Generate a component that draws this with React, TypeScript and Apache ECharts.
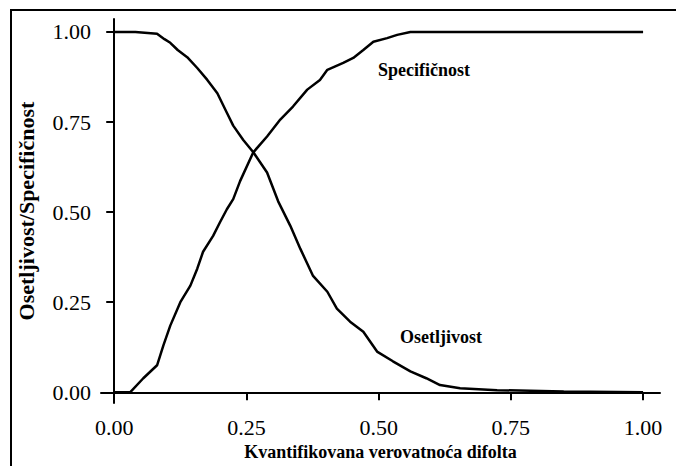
import React, { useEffect, useRef } from "react";
import * as echarts from "echarts";

const tickValues = [0, 0.25, 0.5, 0.75, 1];

const sensX = [0, 0.04, 0.081, 0.095, 0.106, 0.12, 0.138, 0.157, 0.176, 0.195, 0.213, 0.225, 0.244, 0.263, 0.289, 0.31, 0.333, 0.352, 0.376, 0.403, 0.421, 0.446, 0.471, 0.497, 0.527, 0.56, 0.59, 0.616, 0.654, 0.724, 0.85, 1.0];
const sensY = [1.0, 1.0, 0.995, 0.98, 0.97, 0.95, 0.93, 0.9, 0.867, 0.83, 0.776, 0.74, 0.7, 0.666, 0.61, 0.53, 0.462, 0.398, 0.323, 0.279, 0.232, 0.196, 0.168, 0.113, 0.086, 0.058, 0.039, 0.02, 0.011, 0.006, 0.002, 0.0];

const specX = [0, 0.03, 0.055, 0.081, 0.093, 0.106, 0.125, 0.144, 0.157, 0.168, 0.187, 0.2, 0.213, 0.225, 0.238, 0.263, 0.289, 0.314, 0.338, 0.365, 0.389, 0.403, 0.433, 0.452, 0.471, 0.49, 0.516, 0.535, 0.56, 1.0];
const specY = [0, 0, 0.039, 0.075, 0.13, 0.185, 0.25, 0.296, 0.343, 0.39, 0.434, 0.472, 0.508, 0.536, 0.586, 0.666, 0.71, 0.757, 0.793, 0.84, 0.867, 0.895, 0.914, 0.928, 0.95, 0.973, 0.983, 0.992, 1.0, 1.0];

const xTitle = "Kvantifikovana verovatnoća difolta";
const yTitle = "Osetljivost/Specifičnost";
const sensLabel = "Osetljivost";
const specLabel = "Specifičnost";

const FONT = "'Liberation Serif', 'DejaVu Serif', serif";

export default function App() {
  const ref = useRef<HTMLDivElement>(null);
  useEffect(() => {
    if (!ref.current) return;
    const chart = echarts.init(ref.current, null, { renderer: "svg" });
    const axisCommon = {
      type: "value" as const,
      axisLine: { show: true, lineStyle: { color: "#000", width: 2 } },
      axisTick: { show: true, length: 8, lineStyle: { color: "#000", width: 2 }, customValues: tickValues },
      axisLabel: {
        color: "#000",
        fontFamily: FONT,
        fontSize: 22,
        customValues: tickValues,
        formatter: (v: number) => v.toFixed(2),
      },
      splitLine: { show: false },
    };
    chart.setOption({
      animation: false,
      backgroundColor: "#fff",
      textStyle: { fontFamily: FONT },
      grid: { left: 101, right: 16, top: 19, bottom: 61 },
      xAxis: {
        ...axisCommon,
        min: -0.025,
        max: 1.032,
        axisLabel: { ...axisCommon.axisLabel, margin: 13 },
        name: xTitle,
        nameLocation: "middle",
        nameGap: 39,
        nameTextStyle: { color: "#000", fontFamily: FONT, fontWeight: "bold", fontSize: 18 },
      },
      yAxis: {
        ...axisCommon,
        min: -0.03,
        max: 1.036,
        axisLabel: { ...axisCommon.axisLabel, margin: 10 },
        name: yTitle,
        nameLocation: "middle",
        nameRotate: 90,
        nameGap: 64,
        nameTextStyle: { color: "#000", fontFamily: FONT, fontWeight: "bold", fontSize: 22 },
      },
      series: [
        {
          type: "line",
          name: sensLabel,
          data: sensX.map((x, i) => [x, sensY[i]]),
          showSymbol: false,
          lineStyle: { color: "#000", width: 2.5 },
        },
        {
          type: "line",
          name: specLabel,
          data: specX.map((x, i) => [x, specY[i]]),
          showSymbol: false,
          lineStyle: { color: "#000", width: 2.5 },
        },
      ],
      graphic: [
        { type: "line", shape: { x1: 11, y1: 10, x2: 11, y2: 466 }, style: { stroke: "#000", lineWidth: 2 } },
        { type: "line", shape: { x1: 10, y1: 10, x2: 676, y2: 10 }, style: { stroke: "#000", lineWidth: 2 } },
        {
          type: "text",
          x: 378,
          y: 70,
          style: { text: specLabel, fontFamily: FONT, fontWeight: "bold", fontSize: 18, fill: "#000", verticalAlign: "middle" },
        },
        {
          type: "text",
          x: 400,
          y: 337,
          style: { text: sensLabel, fontFamily: FONT, fontWeight: "bold", fontSize: 18, fill: "#000", verticalAlign: "middle" },
        },
      ],
    });
    return () => chart.dispose();
  }, []);
  return <div ref={ref} style={{ position: "absolute", left: 0, top: 0, width: 676, height: 466 }} />;
}
